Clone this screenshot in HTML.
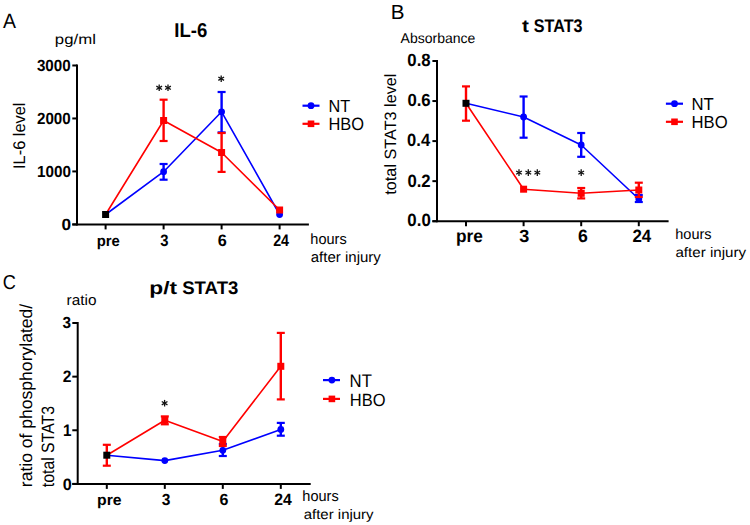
<!DOCTYPE html>
<html><head><meta charset="utf-8"><style>
html,body{margin:0;padding:0;background:#fff;}
svg{display:block;}
text{font-family:"Liberation Sans",sans-serif;fill:#000;text-rendering:geometricPrecision;}
</style></head><body>
<svg width="750" height="525" viewBox="0 0 750 525">
<rect width="750" height="525" fill="#fff"/>
<line x1="77.00" y1="64.49" x2="77.00" y2="225.40" stroke="#000" stroke-width="2"/>
<line x1="72.30" y1="224.40" x2="308.90" y2="224.40" stroke="#000" stroke-width="2"/>
<line x1="72.30" y1="224.40" x2="77.00" y2="224.40" stroke="#000" stroke-width="2"/>
<line x1="72.30" y1="171.43" x2="77.00" y2="171.43" stroke="#000" stroke-width="2"/>
<line x1="72.30" y1="118.46" x2="77.00" y2="118.46" stroke="#000" stroke-width="2"/>
<line x1="72.30" y1="65.49" x2="77.00" y2="65.49" stroke="#000" stroke-width="2"/>
<line x1="105.60" y1="224.40" x2="105.60" y2="229.40" stroke="#000" stroke-width="2"/>
<line x1="163.60" y1="224.40" x2="163.60" y2="229.40" stroke="#000" stroke-width="2"/>
<line x1="221.60" y1="224.40" x2="221.60" y2="229.40" stroke="#000" stroke-width="2"/>
<line x1="279.60" y1="224.40" x2="279.60" y2="229.40" stroke="#000" stroke-width="2"/>
<polyline points="105.60,214.50 163.60,171.70 221.60,111.80 279.60,214.50" fill="none" stroke="#0000ff" stroke-width="1.6" stroke-linejoin="round"/>
<polyline points="105.60,214.50 163.60,120.50 221.60,152.50 279.60,210.00" fill="none" stroke="#ff0000" stroke-width="1.6" stroke-linejoin="round"/>
<line x1="163.60" y1="164.00" x2="163.60" y2="179.70" stroke="#0000ff" stroke-width="2.4"/>
<line x1="159.60" y1="164.00" x2="167.60" y2="164.00" stroke="#0000ff" stroke-width="2.2"/>
<line x1="159.60" y1="179.70" x2="167.60" y2="179.70" stroke="#0000ff" stroke-width="2.2"/>
<circle cx="163.60" cy="171.70" r="3.4" fill="#0000ff"/>
<line x1="221.60" y1="92.00" x2="221.60" y2="132.40" stroke="#0000ff" stroke-width="2.4"/>
<line x1="217.60" y1="92.00" x2="225.60" y2="92.00" stroke="#0000ff" stroke-width="2.2"/>
<line x1="217.60" y1="132.40" x2="225.60" y2="132.40" stroke="#0000ff" stroke-width="2.2"/>
<circle cx="221.60" cy="111.80" r="3.4" fill="#0000ff"/>
<circle cx="279.60" cy="214.50" r="3.4" fill="#0000ff"/>
<line x1="163.60" y1="99.70" x2="163.60" y2="141.00" stroke="#ff0000" stroke-width="2.4"/>
<line x1="159.60" y1="99.70" x2="167.60" y2="99.70" stroke="#ff0000" stroke-width="2.2"/>
<line x1="159.60" y1="141.00" x2="167.60" y2="141.00" stroke="#ff0000" stroke-width="2.2"/>
<rect x="160.10" y="117.00" width="7" height="7" fill="#ff0000"/>
<line x1="221.60" y1="133.00" x2="221.60" y2="171.90" stroke="#ff0000" stroke-width="2.4"/>
<line x1="217.60" y1="133.00" x2="225.60" y2="133.00" stroke="#ff0000" stroke-width="2.2"/>
<line x1="217.60" y1="171.90" x2="225.60" y2="171.90" stroke="#ff0000" stroke-width="2.2"/>
<rect x="218.10" y="149.00" width="7" height="7" fill="#ff0000"/>
<rect x="276.10" y="206.50" width="7" height="7" fill="#ff0000"/>
<rect x="102.10" y="211.00" width="7" height="7" fill="#000"/>
<line x1="302.50" y1="105.70" x2="319.50" y2="105.70" stroke="#0000ff" stroke-width="2.2"/>
<circle cx="311.00" cy="105.70" r="3.4" fill="#0000ff"/>
<line x1="302.50" y1="123.80" x2="319.50" y2="123.80" stroke="#ff0000" stroke-width="2.2"/>
<rect x="307.70" y="120.50" width="6.6" height="6.6" fill="#ff0000"/>
<line x1="159.20" y1="84.50" x2="159.20" y2="91.10" stroke="#111" stroke-width="1.3"/>
<line x1="156.34" y1="86.15" x2="162.06" y2="89.45" stroke="#111" stroke-width="1.3"/>
<line x1="162.06" y1="86.15" x2="156.34" y2="89.45" stroke="#111" stroke-width="1.3"/>
<line x1="168.00" y1="84.50" x2="168.00" y2="91.10" stroke="#111" stroke-width="1.3"/>
<line x1="165.14" y1="86.15" x2="170.86" y2="89.45" stroke="#111" stroke-width="1.3"/>
<line x1="170.86" y1="86.15" x2="165.14" y2="89.45" stroke="#111" stroke-width="1.3"/>
<line x1="221.20" y1="75.40" x2="221.20" y2="82.00" stroke="#111" stroke-width="1.3"/>
<line x1="218.34" y1="77.05" x2="224.06" y2="80.35" stroke="#111" stroke-width="1.3"/>
<line x1="224.06" y1="77.05" x2="218.34" y2="80.35" stroke="#111" stroke-width="1.3"/>
<line x1="437.00" y1="60.00" x2="437.00" y2="222.20" stroke="#000" stroke-width="2"/>
<line x1="432.40" y1="221.20" x2="668.60" y2="221.20" stroke="#000" stroke-width="2"/>
<line x1="432.40" y1="221.20" x2="437.00" y2="221.20" stroke="#000" stroke-width="2"/>
<line x1="432.40" y1="181.15" x2="437.00" y2="181.15" stroke="#000" stroke-width="2"/>
<line x1="432.40" y1="141.10" x2="437.00" y2="141.10" stroke="#000" stroke-width="2"/>
<line x1="432.40" y1="101.05" x2="437.00" y2="101.05" stroke="#000" stroke-width="2"/>
<line x1="432.40" y1="61.00" x2="437.00" y2="61.00" stroke="#000" stroke-width="2"/>
<line x1="466.00" y1="221.20" x2="466.00" y2="226.20" stroke="#000" stroke-width="2"/>
<line x1="523.60" y1="221.20" x2="523.60" y2="226.20" stroke="#000" stroke-width="2"/>
<line x1="581.20" y1="221.20" x2="581.20" y2="226.20" stroke="#000" stroke-width="2"/>
<line x1="638.80" y1="221.20" x2="638.80" y2="226.20" stroke="#000" stroke-width="2"/>
<polyline points="466.00,103.30 523.60,117.00 581.20,145.00 638.80,199.00" fill="none" stroke="#0000ff" stroke-width="1.6" stroke-linejoin="round"/>
<polyline points="466.00,103.30 523.60,189.20 581.20,193.30 638.80,190.00" fill="none" stroke="#ff0000" stroke-width="1.6" stroke-linejoin="round"/>
<line x1="523.60" y1="96.50" x2="523.60" y2="137.70" stroke="#0000ff" stroke-width="2.4"/>
<line x1="519.60" y1="96.50" x2="527.60" y2="96.50" stroke="#0000ff" stroke-width="2.2"/>
<line x1="519.60" y1="137.70" x2="527.60" y2="137.70" stroke="#0000ff" stroke-width="2.2"/>
<circle cx="523.60" cy="117.00" r="3.4" fill="#0000ff"/>
<line x1="581.20" y1="133.00" x2="581.20" y2="156.80" stroke="#0000ff" stroke-width="2.4"/>
<line x1="577.20" y1="133.00" x2="585.20" y2="133.00" stroke="#0000ff" stroke-width="2.2"/>
<line x1="577.20" y1="156.80" x2="585.20" y2="156.80" stroke="#0000ff" stroke-width="2.2"/>
<circle cx="581.20" cy="145.00" r="3.4" fill="#0000ff"/>
<line x1="638.80" y1="195.00" x2="638.80" y2="202.00" stroke="#0000ff" stroke-width="2.4"/>
<line x1="634.80" y1="195.00" x2="642.80" y2="195.00" stroke="#0000ff" stroke-width="2.2"/>
<line x1="634.80" y1="202.00" x2="642.80" y2="202.00" stroke="#0000ff" stroke-width="2.2"/>
<circle cx="638.80" cy="199.00" r="3.4" fill="#0000ff"/>
<line x1="466.00" y1="86.40" x2="466.00" y2="120.70" stroke="#ff0000" stroke-width="2.4"/>
<line x1="462.00" y1="86.40" x2="470.00" y2="86.40" stroke="#ff0000" stroke-width="2.2"/>
<line x1="462.00" y1="120.70" x2="470.00" y2="120.70" stroke="#ff0000" stroke-width="2.2"/>
<rect x="520.10" y="185.70" width="7" height="7" fill="#ff0000"/>
<line x1="581.20" y1="188.00" x2="581.20" y2="198.40" stroke="#ff0000" stroke-width="2.4"/>
<line x1="577.20" y1="188.00" x2="585.20" y2="188.00" stroke="#ff0000" stroke-width="2.2"/>
<line x1="577.20" y1="198.40" x2="585.20" y2="198.40" stroke="#ff0000" stroke-width="2.2"/>
<rect x="577.70" y="189.80" width="7" height="7" fill="#ff0000"/>
<line x1="638.80" y1="182.70" x2="638.80" y2="197.00" stroke="#ff0000" stroke-width="2.4"/>
<line x1="634.80" y1="182.70" x2="642.80" y2="182.70" stroke="#ff0000" stroke-width="2.2"/>
<line x1="634.80" y1="197.00" x2="642.80" y2="197.00" stroke="#ff0000" stroke-width="2.2"/>
<rect x="635.30" y="186.50" width="7" height="7" fill="#ff0000"/>
<rect x="462.50" y="99.80" width="7" height="7" fill="#000"/>
<line x1="665.90" y1="103.70" x2="683.00" y2="103.70" stroke="#0000ff" stroke-width="2.2"/>
<circle cx="674.50" cy="103.70" r="3.4" fill="#0000ff"/>
<line x1="665.90" y1="121.80" x2="683.00" y2="121.80" stroke="#ff0000" stroke-width="2.2"/>
<rect x="671.20" y="118.50" width="6.6" height="6.6" fill="#ff0000"/>
<line x1="519.00" y1="169.30" x2="519.00" y2="175.90" stroke="#111" stroke-width="1.3"/>
<line x1="516.14" y1="170.95" x2="521.86" y2="174.25" stroke="#111" stroke-width="1.3"/>
<line x1="521.86" y1="170.95" x2="516.14" y2="174.25" stroke="#111" stroke-width="1.3"/>
<line x1="528.30" y1="169.30" x2="528.30" y2="175.90" stroke="#111" stroke-width="1.3"/>
<line x1="525.44" y1="170.95" x2="531.16" y2="174.25" stroke="#111" stroke-width="1.3"/>
<line x1="531.16" y1="170.95" x2="525.44" y2="174.25" stroke="#111" stroke-width="1.3"/>
<line x1="537.30" y1="169.30" x2="537.30" y2="175.90" stroke="#111" stroke-width="1.3"/>
<line x1="534.44" y1="170.95" x2="540.16" y2="174.25" stroke="#111" stroke-width="1.3"/>
<line x1="540.16" y1="170.95" x2="534.44" y2="174.25" stroke="#111" stroke-width="1.3"/>
<line x1="581.20" y1="169.30" x2="581.20" y2="175.90" stroke="#111" stroke-width="1.3"/>
<line x1="578.34" y1="170.95" x2="584.06" y2="174.25" stroke="#111" stroke-width="1.3"/>
<line x1="584.06" y1="170.95" x2="578.34" y2="174.25" stroke="#111" stroke-width="1.3"/>
<line x1="77.70" y1="322.01" x2="77.70" y2="484.90" stroke="#000" stroke-width="2"/>
<line x1="72.30" y1="483.90" x2="310.70" y2="483.90" stroke="#000" stroke-width="2"/>
<line x1="72.30" y1="483.90" x2="77.70" y2="483.90" stroke="#000" stroke-width="2"/>
<line x1="72.30" y1="430.27" x2="77.70" y2="430.27" stroke="#000" stroke-width="2"/>
<line x1="72.30" y1="376.64" x2="77.70" y2="376.64" stroke="#000" stroke-width="2"/>
<line x1="72.30" y1="323.01" x2="77.70" y2="323.01" stroke="#000" stroke-width="2"/>
<line x1="106.80" y1="483.90" x2="106.80" y2="488.90" stroke="#000" stroke-width="2"/>
<line x1="164.80" y1="483.90" x2="164.80" y2="488.90" stroke="#000" stroke-width="2"/>
<line x1="222.80" y1="483.90" x2="222.80" y2="488.90" stroke="#000" stroke-width="2"/>
<line x1="280.80" y1="483.90" x2="280.80" y2="488.90" stroke="#000" stroke-width="2"/>
<polyline points="106.80,455.20 164.80,460.60 222.80,450.30 280.80,429.40" fill="none" stroke="#0000ff" stroke-width="1.6" stroke-linejoin="round"/>
<polyline points="106.80,455.20 164.80,420.30 222.80,441.40 280.80,366.30" fill="none" stroke="#ff0000" stroke-width="1.6" stroke-linejoin="round"/>
<circle cx="164.80" cy="460.60" r="3.4" fill="#0000ff"/>
<line x1="222.80" y1="444.00" x2="222.80" y2="456.00" stroke="#0000ff" stroke-width="2.4"/>
<line x1="218.80" y1="444.00" x2="226.80" y2="444.00" stroke="#0000ff" stroke-width="2.2"/>
<line x1="218.80" y1="456.00" x2="226.80" y2="456.00" stroke="#0000ff" stroke-width="2.2"/>
<circle cx="222.80" cy="450.30" r="3.4" fill="#0000ff"/>
<line x1="280.80" y1="422.90" x2="280.80" y2="435.70" stroke="#0000ff" stroke-width="2.4"/>
<line x1="276.80" y1="422.90" x2="284.80" y2="422.90" stroke="#0000ff" stroke-width="2.2"/>
<line x1="276.80" y1="435.70" x2="284.80" y2="435.70" stroke="#0000ff" stroke-width="2.2"/>
<circle cx="280.80" cy="429.40" r="3.4" fill="#0000ff"/>
<line x1="106.80" y1="444.80" x2="106.80" y2="465.70" stroke="#ff0000" stroke-width="2.4"/>
<line x1="102.80" y1="444.80" x2="110.80" y2="444.80" stroke="#ff0000" stroke-width="2.2"/>
<line x1="102.80" y1="465.70" x2="110.80" y2="465.70" stroke="#ff0000" stroke-width="2.2"/>
<line x1="164.80" y1="416.40" x2="164.80" y2="424.30" stroke="#ff0000" stroke-width="2.4"/>
<line x1="160.80" y1="416.40" x2="168.80" y2="416.40" stroke="#ff0000" stroke-width="2.2"/>
<line x1="160.80" y1="424.30" x2="168.80" y2="424.30" stroke="#ff0000" stroke-width="2.2"/>
<rect x="161.30" y="416.80" width="7" height="7" fill="#ff0000"/>
<line x1="222.80" y1="437.00" x2="222.80" y2="446.00" stroke="#ff0000" stroke-width="2.4"/>
<line x1="218.80" y1="437.00" x2="226.80" y2="437.00" stroke="#ff0000" stroke-width="2.2"/>
<line x1="218.80" y1="446.00" x2="226.80" y2="446.00" stroke="#ff0000" stroke-width="2.2"/>
<rect x="219.30" y="437.90" width="7" height="7" fill="#ff0000"/>
<line x1="280.80" y1="332.90" x2="280.80" y2="399.40" stroke="#ff0000" stroke-width="2.4"/>
<line x1="276.80" y1="332.90" x2="284.80" y2="332.90" stroke="#ff0000" stroke-width="2.2"/>
<line x1="276.80" y1="399.40" x2="284.80" y2="399.40" stroke="#ff0000" stroke-width="2.2"/>
<rect x="277.30" y="362.80" width="7" height="7" fill="#ff0000"/>
<rect x="103.30" y="451.70" width="7" height="7" fill="#000"/>
<line x1="323.00" y1="380.10" x2="340.00" y2="380.10" stroke="#0000ff" stroke-width="2.2"/>
<circle cx="331.90" cy="380.10" r="3.4" fill="#0000ff"/>
<line x1="323.00" y1="398.90" x2="340.00" y2="398.90" stroke="#ff0000" stroke-width="2.2"/>
<rect x="328.60" y="395.60" width="6.6" height="6.6" fill="#ff0000"/>
<line x1="164.60" y1="399.90" x2="164.60" y2="406.50" stroke="#111" stroke-width="1.3"/>
<line x1="161.74" y1="401.55" x2="167.46" y2="404.85" stroke="#111" stroke-width="1.3"/>
<line x1="167.46" y1="401.55" x2="161.74" y2="404.85" stroke="#111" stroke-width="1.3"/>
<text x="3.06" y="28.00" font-size="20.73" textLength="12.98" lengthAdjust="spacingAndGlyphs">A</text>
<text x="54.84" y="44.00" font-size="14.02" textLength="41.05" lengthAdjust="spacingAndGlyphs">pg/ml</text>
<text x="174.25" y="37.00" font-size="19.98" font-weight="bold" textLength="32.95" lengthAdjust="spacingAndGlyphs">IL-6</text>
<text transform="translate(25.42,168.98) rotate(-90)" font-size="16.84" textLength="66.46" lengthAdjust="spacingAndGlyphs">IL-6 level</text>
<text x="36.92" y="71.00" font-size="16.23" font-weight="bold" textLength="33.72" lengthAdjust="spacingAndGlyphs">3000</text>
<text x="37.00" y="124.00" font-size="16.27" font-weight="bold" textLength="33.70" lengthAdjust="spacingAndGlyphs">2000</text>
<text x="36.97" y="177.00" font-size="16.09" font-weight="bold" textLength="33.98" lengthAdjust="spacingAndGlyphs">1000</text>
<text x="61.47" y="230.00" font-size="16.30" font-weight="bold" textLength="9.59" lengthAdjust="spacingAndGlyphs">0</text>
<text x="96.69" y="246.00" font-size="15.24" font-weight="bold" textLength="23.07" lengthAdjust="spacingAndGlyphs">pre</text>
<text x="160.26" y="246.00" font-size="16.48" font-weight="bold" textLength="8.25" lengthAdjust="spacingAndGlyphs">3</text>
<text x="217.64" y="246.00" font-size="16.57" font-weight="bold" textLength="9.04" lengthAdjust="spacingAndGlyphs">6</text>
<text x="273.16" y="246.00" font-size="16.63" font-weight="bold" textLength="15.90" lengthAdjust="spacingAndGlyphs">24</text>
<text x="328.60" y="112.00" font-size="17.63" textLength="21.69" lengthAdjust="spacingAndGlyphs">NT</text>
<text x="328.48" y="130.00" font-size="17.83" textLength="35.62" lengthAdjust="spacingAndGlyphs">HBO</text>
<text x="310.31" y="244.00" font-size="15.03" textLength="36.40" lengthAdjust="spacingAndGlyphs">hours</text>
<text x="310.75" y="262.00" font-size="14.67" textLength="70.11" lengthAdjust="spacingAndGlyphs">after injury</text>
<text x="390.66" y="19.00" font-size="20.54" textLength="13.76" lengthAdjust="spacingAndGlyphs">B</text>
<text x="400.62" y="43.00" font-size="14.18" textLength="74.75" lengthAdjust="spacingAndGlyphs">Absorbance</text>
<text x="521.95" y="32.00" font-size="17.81" font-weight="bold" textLength="6.90" lengthAdjust="spacingAndGlyphs">t</text>
<text x="533.81" y="32.00" font-size="18.37" font-weight="bold" textLength="48.78" lengthAdjust="spacingAndGlyphs">STAT3</text>
<text transform="translate(395.78,194.66) rotate(-90)" font-size="16.35" textLength="121.11" lengthAdjust="spacingAndGlyphs">total STAT3 level</text>
<text x="407.36" y="66.00" font-size="17.71" font-weight="bold" textLength="23.28" lengthAdjust="spacingAndGlyphs">0.8</text>
<text x="407.40" y="106.00" font-size="17.58" font-weight="bold" textLength="23.24" lengthAdjust="spacingAndGlyphs">0.6</text>
<text x="407.09" y="146.00" font-size="17.85" font-weight="bold" textLength="23.04" lengthAdjust="spacingAndGlyphs">0.4</text>
<text x="407.40" y="187.00" font-size="17.83" font-weight="bold" textLength="23.25" lengthAdjust="spacingAndGlyphs">0.2</text>
<text x="407.36" y="226.00" font-size="17.80" font-weight="bold" textLength="23.42" lengthAdjust="spacingAndGlyphs">0.0</text>
<text x="456.07" y="242.00" font-size="17.79" font-weight="bold" textLength="26.85" lengthAdjust="spacingAndGlyphs">pre</text>
<text x="519.31" y="242.00" font-size="17.64" font-weight="bold" textLength="10.04" lengthAdjust="spacingAndGlyphs">3</text>
<text x="578.03" y="242.00" font-size="17.90" font-weight="bold" textLength="9.84" lengthAdjust="spacingAndGlyphs">6</text>
<text x="632.42" y="242.00" font-size="17.80" font-weight="bold" textLength="18.78" lengthAdjust="spacingAndGlyphs">24</text>
<text x="691.51" y="110.00" font-size="17.34" textLength="22.28" lengthAdjust="spacingAndGlyphs">NT</text>
<text x="691.52" y="128.00" font-size="17.48" textLength="36.07" lengthAdjust="spacingAndGlyphs">HBO</text>
<text x="675.25" y="239.00" font-size="14.65" textLength="36.32" lengthAdjust="spacingAndGlyphs">hours</text>
<text x="675.46" y="257.00" font-size="13.91" textLength="70.60" lengthAdjust="spacingAndGlyphs">after injury</text>
<text x="2.66" y="289.00" font-size="20.11" textLength="13.13" lengthAdjust="spacingAndGlyphs">C</text>
<text x="66.63" y="305.00" font-size="14.85" textLength="29.90" lengthAdjust="spacingAndGlyphs">ratio</text>
<text x="149.39" y="294.00" font-size="18.12" font-weight="bold" textLength="27.81" lengthAdjust="spacingAndGlyphs">p/t</text>
<text x="182.21" y="294.00" font-size="18.26" font-weight="bold" textLength="56.17" lengthAdjust="spacingAndGlyphs">STAT3</text>
<text transform="translate(31.65,487.19) rotate(-90)" font-size="17.47" textLength="183.35" lengthAdjust="spacingAndGlyphs">ratio of phosphorylated/</text>
<text transform="translate(54.10,487.22) rotate(-90)" font-size="17.81" textLength="81.25" lengthAdjust="spacingAndGlyphs">total STAT3</text>
<text x="62.57" y="328.00" font-size="16.09" font-weight="bold" textLength="8.53" lengthAdjust="spacingAndGlyphs">3</text>
<text x="62.87" y="382.00" font-size="16.60" font-weight="bold" textLength="8.70" lengthAdjust="spacingAndGlyphs">2</text>
<text x="62.97" y="436.00" font-size="16.72" font-weight="bold" textLength="8.45" lengthAdjust="spacingAndGlyphs">1</text>
<text x="62.63" y="490.00" font-size="16.40" font-weight="bold" textLength="9.04" lengthAdjust="spacingAndGlyphs">0</text>
<text x="97.03" y="505.00" font-size="15.18" font-weight="bold" textLength="24.57" lengthAdjust="spacingAndGlyphs">pre</text>
<text x="161.63" y="505.00" font-size="16.01" font-weight="bold" textLength="8.63" lengthAdjust="spacingAndGlyphs">3</text>
<text x="219.58" y="505.00" font-size="16.15" font-weight="bold" textLength="8.92" lengthAdjust="spacingAndGlyphs">6</text>
<text x="274.29" y="505.00" font-size="16.54" font-weight="bold" textLength="17.53" lengthAdjust="spacingAndGlyphs">24</text>
<text x="349.59" y="387.00" font-size="18.26" textLength="22.26" lengthAdjust="spacingAndGlyphs">NT</text>
<text x="349.77" y="406.00" font-size="17.69" textLength="35.71" lengthAdjust="spacingAndGlyphs">HBO</text>
<text x="302.31" y="501.00" font-size="15.03" textLength="36.40" lengthAdjust="spacingAndGlyphs">hours</text>
<text x="303.71" y="519.00" font-size="13.82" textLength="69.89" lengthAdjust="spacingAndGlyphs">after injury</text>
</svg>
</body></html>
